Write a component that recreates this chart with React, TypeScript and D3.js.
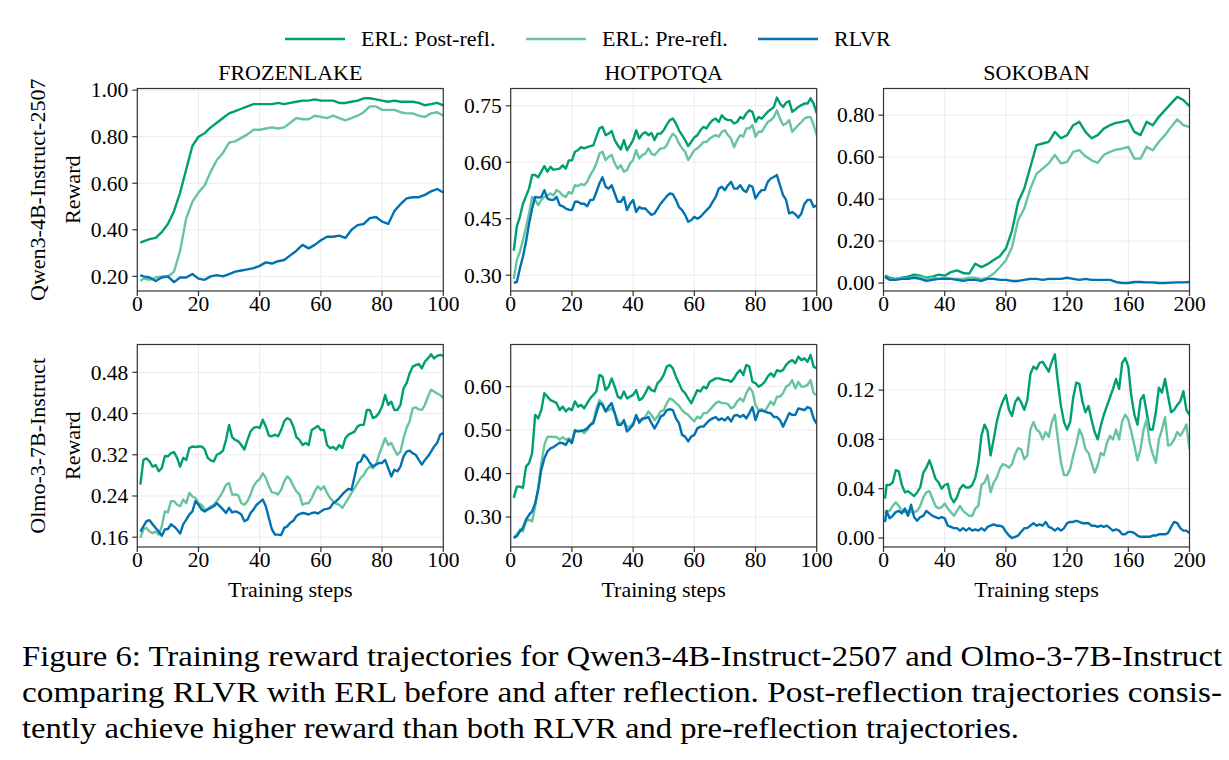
import React from 'react';
import * as d3 from 'd3';

// ---- series & labels ----
const legendLabels = ['ERL: Post-refl.', 'ERL: Pre-refl.', 'RLVR'];
const seriesColors = ['#009e73', '#66c49f', '#0072b2'];
const envTitles = ['FROZENLAKE', 'HOTPOTQA', 'SOKOBAN'];
const modelLabels = ['Qwen3-4B-Instruct-2507', 'Olmo-3-7B-Instruct'];

// training steps logged per environment
const stepsEvery2 = [1, ...d3.range(2, 101, 2)];
const stepsEvery1 = d3.range(1, 101);
const sokobanStepsEvery4 = [1, ...d3.range(4, 201, 4)];
const sokobanStepsEvery2 = [1, ...d3.range(2, 201, 2)];

const xTicks100 = [0, 20, 40, 60, 80, 100];
const xTicks200 = [0, 40, 80, 120, 160, 200];

// Qwen3-4B / FrozenLake
const qwenFrozenPost = [0.345, 0.35, 0.36, 0.365, 0.39, 0.425, 0.48, 0.56, 0.66, 0.76, 0.8, 0.815, 0.84, 0.86, 0.88, 0.9, 0.91, 0.92, 0.93, 0.94, 0.94, 0.94, 0.94, 0.945, 0.94, 0.945, 0.95, 0.955, 0.955, 0.96, 0.955, 0.955, 0.955, 0.945, 0.945, 0.95, 0.955, 0.965, 0.965, 0.96, 0.955, 0.95, 0.955, 0.95, 0.95, 0.95, 0.945, 0.935, 0.94, 0.945, 0.935];
const qwenFrozenPre = [0.18, 0.19, 0.185, 0.195, 0.2, 0.2, 0.22, 0.31, 0.45, 0.52, 0.56, 0.59, 0.65, 0.7, 0.73, 0.775, 0.78, 0.795, 0.81, 0.83, 0.83, 0.835, 0.84, 0.835, 0.84, 0.86, 0.88, 0.875, 0.875, 0.89, 0.885, 0.88, 0.89, 0.88, 0.87, 0.88, 0.89, 0.905, 0.93, 0.93, 0.915, 0.915, 0.915, 0.905, 0.9, 0.9, 0.89, 0.885, 0.9, 0.905, 0.89];
const qwenFrozenRlvr = [0.205, 0.2, 0.195, 0.18, 0.195, 0.2, 0.175, 0.195, 0.195, 0.21, 0.19, 0.185, 0.2, 0.205, 0.2, 0.21, 0.22, 0.225, 0.23, 0.235, 0.245, 0.26, 0.255, 0.265, 0.27, 0.29, 0.31, 0.335, 0.32, 0.335, 0.355, 0.37, 0.37, 0.375, 0.365, 0.4, 0.42, 0.425, 0.45, 0.455, 0.435, 0.425, 0.48, 0.51, 0.535, 0.54, 0.54, 0.55, 0.565, 0.575, 0.56];
const qwenFrozenTicks = [0.2, 0.4, 0.6, 0.8, 1.0];

// Qwen3-4B / HotpotQA
const qwenHotpotPost = [
  0.365, 0.43, 0.455, 0.49, 0.51, 0.53, 0.566, 0.566, 0.56, 0.575,
  0.59, 0.575, 0.588, 0.58, 0.582, 0.583, 0.592, 0.583, 0.605, 0.605,
  0.628, 0.632, 0.64, 0.637, 0.64, 0.643, 0.645, 0.668, 0.69, 0.694,
  0.672, 0.676, 0.683, 0.659, 0.645, 0.634, 0.659, 0.632, 0.645, 0.659,
  0.685, 0.663, 0.675, 0.68, 0.672, 0.678, 0.659, 0.676, 0.676, 0.685,
  0.7, 0.712, 0.716, 0.703, 0.685, 0.672, 0.659, 0.643, 0.654, 0.666,
  0.672, 0.685, 0.694, 0.69, 0.703, 0.712, 0.716, 0.707, 0.725, 0.716,
  0.712, 0.712, 0.703, 0.707, 0.72, 0.716, 0.73, 0.738, 0.734, 0.707,
  0.72, 0.716, 0.725, 0.734, 0.74, 0.747, 0.772, 0.756, 0.747, 0.758,
  0.763, 0.734, 0.74, 0.747, 0.752, 0.756, 0.756, 0.77, 0.756, 0.73,
];
const qwenHotpotPre = [
  0.29, 0.34, 0.362, 0.393, 0.428, 0.464, 0.508, 0.5, 0.486, 0.5,
  0.508, 0.512, 0.517, 0.512, 0.526, 0.521, 0.512, 0.508, 0.521, 0.517,
  0.539, 0.537, 0.542, 0.539, 0.548, 0.566, 0.579, 0.597, 0.623, 0.628,
  0.606, 0.614, 0.619, 0.597, 0.583, 0.592, 0.575, 0.579, 0.597, 0.606,
  0.632, 0.61, 0.619, 0.623, 0.637, 0.623, 0.619, 0.628, 0.637, 0.637,
  0.645, 0.663, 0.676, 0.668, 0.65, 0.637, 0.628, 0.606, 0.619, 0.632,
  0.637, 0.645, 0.654, 0.654, 0.663, 0.668, 0.672, 0.668, 0.681, 0.685,
  0.672, 0.663, 0.64, 0.659, 0.672, 0.668, 0.69, 0.69, 0.699, 0.668,
  0.681, 0.681, 0.694, 0.707, 0.712, 0.72, 0.738, 0.716, 0.699, 0.703,
  0.712, 0.681, 0.69, 0.699, 0.707, 0.716, 0.72, 0.72, 0.699, 0.672,
];
const qwenHotpotRlvr = [
  0.28, 0.282, 0.318, 0.349, 0.389, 0.437, 0.477, 0.508, 0.506, 0.508,
  0.526, 0.504, 0.5, 0.5, 0.508, 0.486, 0.483, 0.477, 0.474, 0.473,
  0.495, 0.495, 0.49, 0.49, 0.483, 0.5, 0.5, 0.521, 0.544, 0.56,
  0.535, 0.53, 0.539, 0.517, 0.495, 0.495, 0.508, 0.473, 0.49, 0.5,
  0.468, 0.481, 0.477, 0.477, 0.468, 0.46, 0.464, 0.477, 0.49, 0.5,
  0.51, 0.517, 0.515, 0.5, 0.481, 0.473, 0.46, 0.442, 0.446, 0.455,
  0.45, 0.455, 0.464, 0.473, 0.481, 0.495, 0.508, 0.53, 0.535, 0.526,
  0.539, 0.548, 0.53, 0.53, 0.539, 0.526, 0.521, 0.539, 0.535, 0.504,
  0.517, 0.526, 0.526, 0.548, 0.557, 0.561, 0.566, 0.539, 0.513, 0.5,
  0.464, 0.468, 0.462, 0.453, 0.464, 0.49, 0.5, 0.5, 0.481, 0.486,
];
const qwenHotpotTicks = [0.3, 0.45, 0.6, 0.75];

// Qwen3-4B / Sokoban
const qwenSokobanPost = [0.035, 0.025, 0.02, 0.025, 0.03, 0.04, 0.035, 0.025, 0.03, 0.04, 0.035, 0.052, 0.06, 0.048, 0.045, 0.092, 0.076, 0.09, 0.11, 0.128, 0.164, 0.25, 0.386, 0.45, 0.553, 0.657, 0.665, 0.673, 0.72, 0.69, 0.705, 0.752, 0.768, 0.72, 0.69, 0.705, 0.736, 0.752, 0.763, 0.768, 0.776, 0.72, 0.705, 0.768, 0.752, 0.792, 0.824, 0.856, 0.887, 0.872, 0.843];
const qwenSokobanPre = [0.025, 0.02, 0.02, 0.025, 0.02, 0.03, 0.03, 0.02, 0.025, 0.02, 0.025, 0.02, 0.02, 0.02, 0.025, 0.025, 0.018, 0.025, 0.045, 0.075, 0.108, 0.17, 0.3, 0.355, 0.45, 0.52, 0.545, 0.57, 0.61, 0.57, 0.577, 0.625, 0.633, 0.604, 0.585, 0.573, 0.61, 0.625, 0.636, 0.64, 0.649, 0.593, 0.593, 0.649, 0.633, 0.673, 0.705, 0.744, 0.78, 0.752, 0.744];
const qwenSokobanRlvr = [0.03, 0.015, 0.015, 0.02, 0.02, 0.025, 0.02, 0.01, 0.015, 0.02, 0.02, 0.02, 0.015, 0.01, 0.015, 0.015, 0.01, 0.02, 0.02, 0.015, 0.015, 0.01, 0.01, 0.015, 0.02, 0.02, 0.015, 0.02, 0.02, 0.02, 0.025, 0.02, 0.015, 0.02, 0.015, 0.015, 0.015, 0.015, 0.005, 0, 0, 0.005, 0.005, 0.003, 0.003, 0, 0, 0.002, 0.003, 0.003, 0.005];
const qwenSokobanTicks = [0, 0.2, 0.4, 0.6, 0.8];

// Olmo-3-7B / FrozenLake
const olmoFrozenPost = [
  0.262, 0.31, 0.313, 0.307, 0.297, 0.3, 0.288, 0.294, 0.317, 0.317,
  0.323, 0.325, 0.314, 0.297, 0.314, 0.31, 0.333, 0.336, 0.335, 0.336,
  0.336, 0.331, 0.314, 0.309, 0.307, 0.32, 0.323, 0.328, 0.349, 0.378,
  0.354, 0.349, 0.346, 0.339, 0.33, 0.349, 0.365, 0.372, 0.374, 0.372,
  0.388, 0.375, 0.357, 0.356, 0.359, 0.356, 0.368, 0.385, 0.391, 0.388,
  0.375, 0.354, 0.349, 0.339, 0.343, 0.339, 0.368, 0.372, 0.376, 0.368,
  0.368, 0.339, 0.333, 0.335, 0.33, 0.339, 0.333, 0.352, 0.359, 0.362,
  0.365, 0.375, 0.378, 0.378, 0.407, 0.407, 0.391, 0.394, 0.401, 0.414,
  0.436, 0.417, 0.423, 0.407, 0.407, 0.417, 0.449, 0.459, 0.478, 0.491,
  0.494, 0.496, 0.488, 0.501, 0.507, 0.515, 0.507, 0.512, 0.514, 0.512,
];
const olmoFrozenPre = [
  0.159, 0.175, 0.178, 0.171, 0.168, 0.171, 0.165, 0.181, 0.21, 0.208,
  0.23, 0.23, 0.223, 0.22, 0.233, 0.226, 0.246, 0.239, 0.236, 0.226,
  0.223, 0.214, 0.214, 0.22, 0.223, 0.23, 0.239, 0.249, 0.262, 0.265,
  0.243, 0.243, 0.241, 0.226, 0.223, 0.23, 0.243, 0.259, 0.268, 0.273,
  0.284, 0.275, 0.259, 0.247, 0.246, 0.243, 0.252, 0.268, 0.278, 0.272,
  0.259, 0.249, 0.243, 0.223, 0.226, 0.226, 0.236, 0.249, 0.259, 0.252,
  0.259, 0.246, 0.236, 0.23, 0.225, 0.223, 0.217, 0.226, 0.236, 0.246,
  0.255, 0.265, 0.275, 0.281, 0.291, 0.297, 0.294, 0.301, 0.32, 0.336,
  0.352, 0.339, 0.343, 0.33, 0.32, 0.326, 0.352, 0.372, 0.385, 0.41,
  0.412, 0.408, 0.407, 0.417, 0.433, 0.446, 0.443, 0.439, 0.436, 0.43,
];
const olmoFrozenRlvr = [
  0.171, 0.181, 0.191, 0.193, 0.185, 0.178, 0.171, 0.163, 0.175, 0.176,
  0.185, 0.181, 0.175, 0.167, 0.185, 0.194, 0.204, 0.21, 0.23, 0.223,
  0.214, 0.21, 0.214, 0.217, 0.22, 0.226, 0.22, 0.214, 0.207, 0.217,
  0.208, 0.21, 0.208, 0.204, 0.191, 0.194, 0.207, 0.214, 0.223, 0.228,
  0.233, 0.22, 0.197, 0.175, 0.165, 0.165, 0.164, 0.178, 0.181, 0.188,
  0.192, 0.201, 0.205, 0.207, 0.206, 0.204, 0.207, 0.208, 0.206, 0.21,
  0.214, 0.215, 0.217, 0.226, 0.23, 0.236, 0.243, 0.249, 0.254, 0.252,
  0.278, 0.304, 0.307, 0.32, 0.314, 0.304, 0.297, 0.301, 0.304, 0.304,
  0.31, 0.294, 0.278, 0.291, 0.288, 0.297, 0.317, 0.326, 0.328, 0.323,
  0.32, 0.31, 0.301, 0.31, 0.317, 0.326, 0.336, 0.343, 0.359, 0.362,
];
const olmoFrozenTicks = [0.16, 0.24, 0.32, 0.4, 0.48];

// Olmo-3-7B / HotpotQA
const olmoHotpotPost = [
  0.344, 0.37, 0.37, 0.367, 0.416, 0.424, 0.447, 0.535, 0.527, 0.546,
  0.585, 0.577, 0.569, 0.566, 0.562, 0.546, 0.554, 0.543, 0.55, 0.546,
  0.566, 0.554, 0.558, 0.55, 0.562, 0.573, 0.581, 0.589, 0.627, 0.623,
  0.592, 0.6, 0.619, 0.6, 0.577, 0.573, 0.589, 0.573, 0.577, 0.581,
  0.592, 0.569, 0.573, 0.585, 0.6, 0.592, 0.589, 0.608, 0.615, 0.627,
  0.646, 0.65, 0.642, 0.623, 0.608, 0.592, 0.585, 0.573, 0.562, 0.577,
  0.592, 0.589, 0.6, 0.596, 0.611, 0.615, 0.619, 0.619, 0.617, 0.615,
  0.615, 0.611, 0.619, 0.631, 0.638, 0.627, 0.65, 0.646, 0.611, 0.608,
  0.6, 0.604, 0.611, 0.623, 0.631, 0.623, 0.638, 0.635, 0.638, 0.65,
  0.657, 0.661, 0.654, 0.669, 0.661, 0.665, 0.657, 0.673, 0.646, 0.642,
];
const olmoHotpotPre = [
  0.252, 0.26, 0.271, 0.267, 0.29, 0.294, 0.29, 0.324, 0.37, 0.424,
  0.466, 0.484, 0.485, 0.484, 0.484, 0.478, 0.484, 0.478, 0.481, 0.474,
  0.497, 0.497, 0.5, 0.493, 0.5, 0.512, 0.52, 0.55, 0.569, 0.562,
  0.543, 0.546, 0.55, 0.539, 0.52, 0.512, 0.52, 0.508, 0.508, 0.516,
  0.531, 0.523, 0.523, 0.531, 0.543, 0.535, 0.523, 0.531, 0.543, 0.546,
  0.562, 0.573, 0.569, 0.562, 0.556, 0.546, 0.539, 0.535, 0.527, 0.52,
  0.531, 0.527, 0.539, 0.539, 0.546, 0.554, 0.562, 0.566, 0.562, 0.562,
  0.56, 0.55, 0.554, 0.566, 0.573, 0.566, 0.585, 0.598, 0.589, 0.558,
  0.546, 0.548, 0.543, 0.554, 0.566, 0.558, 0.577, 0.577, 0.585, 0.6,
  0.604, 0.615, 0.596, 0.611, 0.6, 0.6, 0.604, 0.615, 0.585, 0.581,
];
const olmoHotpotRlvr = [
  0.252, 0.256, 0.267, 0.275, 0.294, 0.305, 0.313, 0.332, 0.363, 0.409,
  0.435, 0.451, 0.458, 0.461, 0.466, 0.471, 0.47, 0.466, 0.478, 0.47,
  0.5, 0.497, 0.498, 0.5, 0.504, 0.512, 0.516, 0.539, 0.562, 0.558,
  0.543, 0.554, 0.562, 0.539, 0.512, 0.512, 0.523, 0.497, 0.504, 0.512,
  0.535, 0.517, 0.527, 0.527, 0.53, 0.516, 0.504, 0.516, 0.531, 0.535,
  0.546, 0.548, 0.546, 0.527, 0.516, 0.489, 0.485, 0.474, 0.485, 0.489,
  0.504, 0.508, 0.508, 0.516, 0.523, 0.527, 0.53, 0.523, 0.527, 0.522,
  0.53, 0.52, 0.533, 0.535, 0.53, 0.535, 0.527, 0.539, 0.553, 0.523,
  0.543, 0.545, 0.543, 0.54, 0.539, 0.53, 0.53, 0.523, 0.508, 0.523,
  0.539, 0.535, 0.535, 0.55, 0.548, 0.546, 0.553, 0.55, 0.527, 0.514,
];
const olmoHotpotTicks = [0.3, 0.4, 0.5, 0.6];

// Olmo-3-7B / Sokoban
const olmoSokobanPost = [
  0.032, 0.043, 0.043, 0.045, 0.055, 0.054, 0.043, 0.037, 0.038, 0.036, 0.034,
  0.037, 0.041, 0.053, 0.057, 0.063, 0.056, 0.048, 0.045, 0.04, 0.043,
  0.044, 0.033, 0.029, 0.033, 0.04, 0.043, 0.041, 0.041, 0.043, 0.049,
  0.061, 0.083, 0.092, 0.087, 0.067, 0.08, 0.094, 0.104, 0.111, 0.116,
  0.104, 0.099, 0.11, 0.114, 0.11, 0.104, 0.112, 0.133, 0.139, 0.137,
  0.142, 0.143, 0.139, 0.135, 0.143, 0.149, 0.126, 0.107, 0.094, 0.088,
  0.094, 0.114, 0.126, 0.125, 0.111, 0.102, 0.107, 0.096, 0.086, 0.08,
  0.091, 0.1, 0.107, 0.114, 0.121, 0.129, 0.121, 0.142, 0.146, 0.139,
  0.115, 0.1, 0.092, 0.112, 0.116, 0.102, 0.088, 0.088, 0.102, 0.122,
  0.118, 0.129, 0.115, 0.102, 0.104, 0.108, 0.111, 0.119, 0.104, 0.1,
];
const olmoSokobanPre = [
  0.02, 0.022, 0.022, 0.026, 0.029, 0.026, 0.022, 0.021, 0.022, 0.021, 0.021,
  0.022, 0.026, 0.033, 0.037, 0.038, 0.032, 0.026, 0.024, 0.025, 0.028,
  0.024, 0.021, 0.018, 0.022, 0.026, 0.022, 0.02, 0.018, 0.018, 0.024,
  0.026, 0.043, 0.045, 0.051, 0.037, 0.045, 0.049, 0.056, 0.06, 0.059,
  0.057, 0.06, 0.068, 0.073, 0.072, 0.064, 0.067, 0.088, 0.094, 0.088,
  0.086, 0.08, 0.086, 0.082, 0.094, 0.1, 0.08, 0.061, 0.051, 0.051,
  0.056, 0.067, 0.076, 0.088, 0.083, 0.072, 0.069, 0.061, 0.053, 0.059,
  0.069, 0.067, 0.077, 0.083, 0.08, 0.088, 0.08, 0.095, 0.1, 0.096,
  0.086, 0.075, 0.063, 0.072, 0.088, 0.096, 0.077, 0.068, 0.061, 0.08,
  0.088, 0.098, 0.075, 0.076, 0.08, 0.086, 0.083, 0.087, 0.092, 0.072,
];
const olmoSokobanRlvr = [
  0.013, 0.022, 0.016, 0.018, 0.021, 0.022, 0.02, 0.024, 0.018, 0.027, 0.017,
  0.014, 0.017, 0.018, 0.022, 0.02, 0.018, 0.017, 0.016, 0.017, 0.016,
  0.01, 0.009, 0.008, 0.008, 0.006, 0.008, 0.006, 0.008, 0.006, 0.007,
  0.006, 0.008, 0.006, 0.009, 0.01, 0.011, 0.01, 0.01, 0.009, 0.005,
  0.002, 0, 0.001, 0.002, 0.005, 0.008, 0.008, 0.01, 0.012, 0.01,
  0.011, 0.01, 0.013, 0.009, 0.008, 0.006, 0.008, 0.006, 0.008, 0.012,
  0.013, 0.013, 0.014, 0.013, 0.012, 0.012, 0.012, 0.01, 0.01, 0.009,
  0.01, 0.009, 0.01, 0.008, 0.006, 0.007, 0.006, 0.003, 0.003, 0.005,
  0.005, 0.004, 0.002, 0.001, 0.001, 0.001, 0.001, 0.002, 0.002, 0.003,
  0.003, 0.003, 0.004, 0.009, 0.013, 0.012, 0.008, 0.006, 0.006, 0.004,
];
const olmoSokobanTicks = [0, 0.04, 0.08, 0.12];

const captionLines = [
  'Figure 6: Training reward trajectories for Qwen3-4B-Instruct-2507 and Olmo-3-7B-Instruct',
  'comparing RLVR with ERL before and after reflection. Post-reflection trajectories consis-',
  'tently achieve higher reward than both RLVR and pre-reflection trajectories.',
];

// ---- layout ----
const W = 1229;
const H = 760;
const colLeft = [137.3, 510.7, 883.5];
const rowTop = [88.5, 344.5];
const plotW = 306;
const plotH = 202.5;
const serif = 'Liberation Serif';
const axisColor = '#333';
const gridColor = '#ebebeb';
const tickLen = 5;

const panels = [
  { row: 0, col: 0, steps: stepsEvery2, series: [qwenFrozenPost, qwenFrozenPre, qwenFrozenRlvr], xMax: 100, xTicks: xTicks100, yTicks: qwenFrozenTicks, yDomain: [0.137, 1.007] },
  { row: 0, col: 1, steps: stepsEvery1, series: [qwenHotpotPost, qwenHotpotPre, qwenHotpotRlvr], xMax: 100, xTicks: xTicks100, yTicks: qwenHotpotTicks, yDomain: [0.258, 0.796] },
  { row: 0, col: 2, steps: sokobanStepsEvery4, series: [qwenSokobanPost, qwenSokobanPre, qwenSokobanRlvr], xMax: 200, xTicks: xTicks200, yTicks: qwenSokobanTicks, yDomain: [-0.038, 0.927] },
  { row: 1, col: 0, steps: stepsEvery1, series: [olmoFrozenPost, olmoFrozenPre, olmoFrozenRlvr], xMax: 100, xTicks: xTicks100, yTicks: olmoFrozenTicks, yDomain: [0.141, 0.534] },
  { row: 1, col: 1, steps: stepsEvery1, series: [olmoHotpotPost, olmoHotpotPre, olmoHotpotRlvr], xMax: 100, xTicks: xTicks100, yTicks: olmoHotpotTicks, yDomain: [0.231, 0.697] },
  { row: 1, col: 2, steps: sokobanStepsEvery2, series: [olmoSokobanPost, olmoSokobanPre, olmoSokobanRlvr], xMax: 200, xTicks: xTicks200, yTicks: olmoSokobanTicks, yDomain: [-0.0073, 0.157] },
];

const fmtY = d3.format('.2f');

const Panel = ({ p, idx }) => {
  const x = d3.scaleLinear().domain([0, p.xMax]).range([0, plotW]);
  const y = d3.scaleLinear().domain(p.yDomain).range([plotH, 0]);
  const line = d3.line<number>()
    .x((_, i) => x(p.steps[i]))
    .y(d => y(d));
  const clipId = `clip-${idx}`;

  return (
    <g transform={`translate(${colLeft[p.col]},${rowTop[p.row]})`}>
      <clipPath id={clipId}>
        <rect width={plotW} height={plotH} />
      </clipPath>

      {/* grid */}
      {p.xTicks.map(t => (
        <line key={`gx${t}`} x1={x(t)} x2={x(t)} y1={0} y2={plotH} stroke={gridColor} strokeWidth={1} />
      ))}
      {p.yTicks.map(t => (
        <line key={`gy${t}`} x1={0} x2={plotW} y1={y(t)} y2={y(t)} stroke={gridColor} strokeWidth={1} />
      ))}

      {/* curves: post-reflection, pre-reflection, RLVR */}
      <g clipPath={`url(#${clipId})`}>
        {p.series.map((s, i) => (
          <path
            key={i}
            d={line(s) || ''}
            fill="none"
            stroke={seriesColors[i]}
            strokeWidth={2.4}
            strokeLinejoin="round"
          />
        ))}
      </g>

      {/* x axis */}
      {p.xTicks.map(t => (
        <g key={`xt${t}`} transform={`translate(${x(t)},${plotH})`}>
          <line y2={tickLen} stroke={axisColor} strokeWidth={1.2} />
          <text y={19.5} textAnchor="middle" fontFamily={serif} fontSize={21.5}>{t}</text>
        </g>
      ))}

      {/* y axis */}
      {p.yTicks.map(t => (
        <g key={`yt${t}`} transform={`translate(0,${y(t)})`}>
          <line x2={-tickLen} stroke={axisColor} strokeWidth={1.2} />
          <text x={-9} dy="0.34em" textAnchor="end" fontFamily={serif} fontSize={21.5}>{fmtY(t)}</text>
        </g>
      ))}

      <rect width={plotW} height={plotH} fill="none" stroke={axisColor} strokeWidth={1.2} />

      {p.row === 0 && (
        <text x={plotW / 2} y={-8.5} textAnchor="middle" fontFamily={serif} fontSize={22}>
          {envTitles[p.col]}
        </text>
      )}
      {p.row === 1 && (
        <text x={plotW / 2} y={plotH + 50} textAnchor="middle" fontFamily={serif} fontSize={22}>
          Training steps
        </text>
      )}
      {p.col === 0 && (
        <>
          <text
            transform={`translate(${80 - colLeft[0]},${plotH / 2}) rotate(-90)`}
            textAnchor="middle" fontFamily={serif} fontSize={22}
          >
            Reward
          </text>
          <text
            transform={`translate(${45 - colLeft[0]},${plotH / 2}) rotate(-90)`}
            textAnchor="middle" fontFamily={serif} fontSize={22}
          >
            {modelLabels[p.row]}
          </text>
        </>
      )}
    </g>
  );
};

const legendX = [285, 526, 758];
const legendY = 39;
const captionLengths = [1200, 1200, 997];

const App = () => (
  <svg
    width={W}
    height={H}
    style={{ position: 'absolute', left: 0, top: 0, background: '#fff' }}
  >
    {/* legend */}
    {legendLabels.map((label, i) => (
      <g key={label}>
        <line
          x1={legendX[i]} x2={legendX[i] + 60} y1={legendY} y2={legendY}
          stroke={seriesColors[i]} strokeWidth={2.6}
        />
        <text x={legendX[i] + 76} y={legendY} dy="0.34em" fontFamily={serif} fontSize={22}>
          {label}
        </text>
      </g>
    ))}

    {panels.map((p, i) => (
      <Panel key={i} p={p} idx={i} />
    ))}

    {/* caption */}
    {captionLines.map((t, i) => (
      <text
        key={i}
        x={22}
        y={666 + i * 36}
        fontFamily={serif}
        fontSize={30}
        textLength={captionLengths[i]}
        lengthAdjust="spacingAndGlyphs"
      >
        {t}
      </text>
    ))}
  </svg>
);

export default App;
